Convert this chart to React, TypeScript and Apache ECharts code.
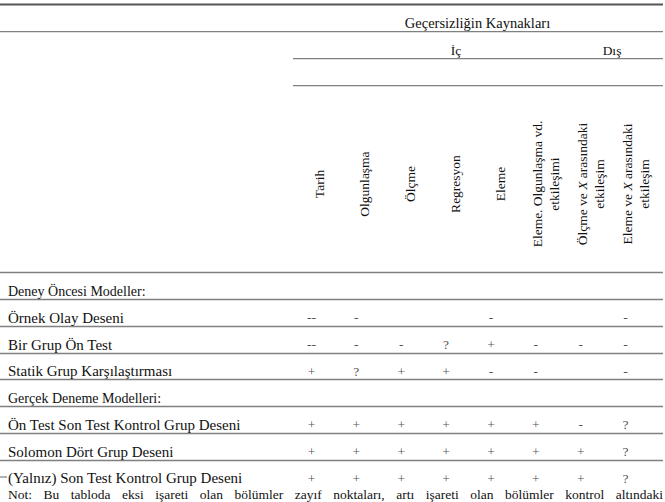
import React, { useEffect, useRef } from "react";
import * as echarts from "echarts";

// ---------- data ----------
const TITLE_MAIN = "Geçersizliğin Kaynakları";
const GROUP_INTERNAL = "İç";
const GROUP_EXTERNAL = "Dış";

const COLUMN_HEADERS = [
  "{n|Tarih}",
  "{n|Olgunlaşma}",
  "{n|Ölçme}",
  "{n|Regresyon}",
  "{n|Eleme}",
  "{n|Eleme. Olgunlaşma vd.}\n{n|etkileşimi}",
  "{n|Ölçme ve }{i|X}{n| arasındaki}\n{n|etkileşim}",
  "{n|Eleme ve }{i|X}{n| arasındaki}\n{n|etkileşim}",
];

const ROW_LABELS = [
  "Deney Öncesi Modeller:",
  "Örnek Olay Deseni",
  "Bir Grup Ön Test",
  "Statik Grup Karşılaştırması",
  "Gerçek Deneme Modelleri:",
  "Ön Test Son Test Kontrol Grup Deseni",
  "Solomon Dört Grup Deseni",
  "(Yalnız) Son Test Kontrol Grup Deseni",
];
const SECTION_ROWS = [0, 4];

const ROW_DENEY_ONCESI = ["", "", "", "", "", "", "", ""];
const ROW_ORNEK_OLAY = ["--", "-", "", "", "-", "", "", "-"];
const ROW_BIR_GRUP = ["--", "-", "-", "?", "+", "-", "-", "-"];
const ROW_STATIK = ["+", "?", "+", "+", "-", "-", "", "-"];
const ROW_GERCEK = ["", "", "", "", "", "", "", ""];
const ROW_ON_TEST = ["+", "+", "+", "+", "+", "+", "-", "?"];
const ROW_SOLOMON = ["+", "+", "+", "+", "+", "+", "+", "?"];
const ROW_YALNIZ = ["+", "+", "+", "+", "+", "+", "+", "?"];

const TABLE_ROWS = [
  ROW_DENEY_ONCESI,
  ROW_ORNEK_OLAY,
  ROW_BIR_GRUP,
  ROW_STATIK,
  ROW_GERCEK,
  ROW_ON_TEST,
  ROW_SOLOMON,
  ROW_YALNIZ,
];

const NOTE_TEXT =
  "Not: Bu tabloda eksi işareti olan bölümler zayıf noktaları, artı işareti olan bölümler kontrol altındaki";

// ---------- style / layout ----------
const FONT_FAMILY = "'Liberation Serif', 'Times New Roman', serif";
const FS = 13.5;
const FS_SECTION = 14;
const FS_ROW = 15;
const W = 665;
const H = 502;
const BODY_TOP = 272.7;
const ROW_H = 26.76;
const RULE = "#808080";
const TEXT = "#111";

function measure(text: string): number {
  const c = document.createElement("canvas").getContext("2d");
  if (!c) return text.length * 6;
  c.font = `${FS}px "Liberation Serif"`;
  return c.measureText(text).width;
}

export default function App() {
  const ref = useRef<HTMLDivElement>(null);

  useEffect(() => {
    if (!ref.current) return;
    const chart = echarts.init(ref.current, undefined, { renderer: "svg" });

    const bodyHeight = ROW_H * ROW_LABELS.length;

    const scatterData: any[] = [];
    TABLE_ROWS.forEach((row, r) => {
      row.forEach((sym, c) => {
        if (sym) scatterData.push([c, r, sym]);
      });
    });

    // justified note line
    const words = NOTE_TEXT.split(" ");
    const widths = words.map(measure);
    const total = widths.reduce((a, b) => a + b, 0);
    const left = 8;
    const right = 663;
    const gap = (right - left - total) / (words.length - 1);
    let cx = left;
    const noteEls: any[] = words.map((w, i) => {
      const el = {
        type: "text",
        x: cx,
        y: 494,
        style: {
          text: w,
          fill: TEXT,
          font: `${FS}px ${FONT_FAMILY}`,
          lineHeight: 13,
          textAlign: "left",
          textVerticalAlign: "middle",
          align: "left",
          verticalAlign: "middle",
        },
      };
      cx += widths[i] + gap;
      return el;
    });

    const hLine = (x1: number, x2: number, y: number, w = 1.3, color = RULE) => ({
      type: "line",
      shape: { x1, y1: y, x2, y2: y },
      style: { stroke: color, lineWidth: w },
    });

    const headText = (text: string, x: number, y: number, size: number) => ({
      type: "text",
      x,
      y,
      style: {
        text,
        fill: TEXT,
        font: `${size}px ${FONT_FAMILY}`,
        textAlign: "center",
        textVerticalAlign: "middle",
        align: "center",
        verticalAlign: "middle",
      },
    });

    const rowColors = ROW_LABELS.map(() => RULE).concat(["rgba(0,0,0,0)"]);

    chart.setOption({
      animation: false,
      backgroundColor: "#fff",
      grid: [
        { left: 0, width: 663, top: BODY_TOP, height: bodyHeight },
        { left: 289, width: 359, top: BODY_TOP, height: bodyHeight },
        { left: 297, width: 362, top: BODY_TOP, height: bodyHeight },
      ],
      xAxis: [
        { gridIndex: 0, type: "value", min: 0, max: 1, show: false },
        {
          gridIndex: 1,
          type: "category",
          data: COLUMN_HEADERS.map((_, i) => String(i)),
          show: false,
        },
        {
          gridIndex: 2,
          type: "category",
          position: "top",
          data: COLUMN_HEADERS,
          axisLine: { show: false },
          axisTick: { show: false },
          splitLine: { show: false },
          axisLabel: {
            interval: 0,
            rotate: 90,
            align: "center",
            verticalAlign: "middle",
            margin: 88.7,
            fontFamily: FONT_FAMILY,
            fontSize: FS,
            color: TEXT,
            rich: {
              n: { fontFamily: FONT_FAMILY, fontSize: FS, color: TEXT, lineHeight: 17 },
              i: {
                fontFamily: FONT_FAMILY,
                fontSize: FS,
                color: TEXT,
                fontStyle: "italic",
                lineHeight: 17,
              },
            },
          },
        },
      ],
      yAxis: [
        {
          gridIndex: 0,
          type: "category",
          inverse: true,
          data: ROW_LABELS,
          axisLine: { show: false },
          axisTick: { show: false },
          axisLabel: {
            inside: true,
            margin: 8,
            align: "left",
            verticalAlign: "middle",
            padding: [10, 0, 0, 0],
            fontFamily: FONT_FAMILY,
            fontSize: FS,
            color: TEXT,
            interval: 0,
            formatter: (v: string, i: number) =>
              SECTION_ROWS.indexOf(i) >= 0 ? `{h|${v}}` : `{d|${v}}`,
            rich: {
              h: { fontFamily: FONT_FAMILY, fontSize: FS_SECTION, color: TEXT, lineHeight: 14 },
              d: { fontFamily: FONT_FAMILY, fontSize: FS_ROW, color: TEXT, lineHeight: 14 },
            },
          },
          splitLine: {
            show: true,
            interval: 0,
            lineStyle: { color: rowColors, width: 1.3 },
          },
        },
        {
          gridIndex: 1,
          type: "category",
          inverse: true,
          data: ROW_LABELS.map((_, i) => String(i)),
          show: false,
        },
        { gridIndex: 2, type: "value", show: false },
      ],
      series: [
        {
          type: "scatter",
          xAxisIndex: 1,
          yAxisIndex: 1,
          symbol: "circle",
          symbolSize: 1,
          itemStyle: { color: "rgba(0,0,0,0)" },
          silent: true,
          data: scatterData,
          label: {
            show: true,
            position: "inside",
            offset: [0, 5],
            formatter: (p: any) => p.value[2],
            fontFamily: FONT_FAMILY,
            fontSize: FS,
            lineHeight: 12,
            color: "#222",
          },
        },
      ],
      graphic: [
        hLine(0, 663, 4.5, 1.8, "#555"),
        hLine(0, 663, 31.7),
        hLine(293, 663, 58.7),
        hLine(293, 663, 85.7),
        hLine(0, 7, 477, 1.2),
        headText(TITLE_MAIN, 477.5, 22.5, 14.5),
        headText(GROUP_INTERNAL, 456, 50.5, FS),
        headText(GROUP_EXTERNAL, 612, 50.5, FS),
        ...noteEls,
      ],
    });

    return () => chart.dispose();
  }, []);

  return (
    <div
      ref={ref}
      style={{ position: "fixed", left: 0, top: 0, width: W, height: H, background: "#fff" }}
    />
  );
}
